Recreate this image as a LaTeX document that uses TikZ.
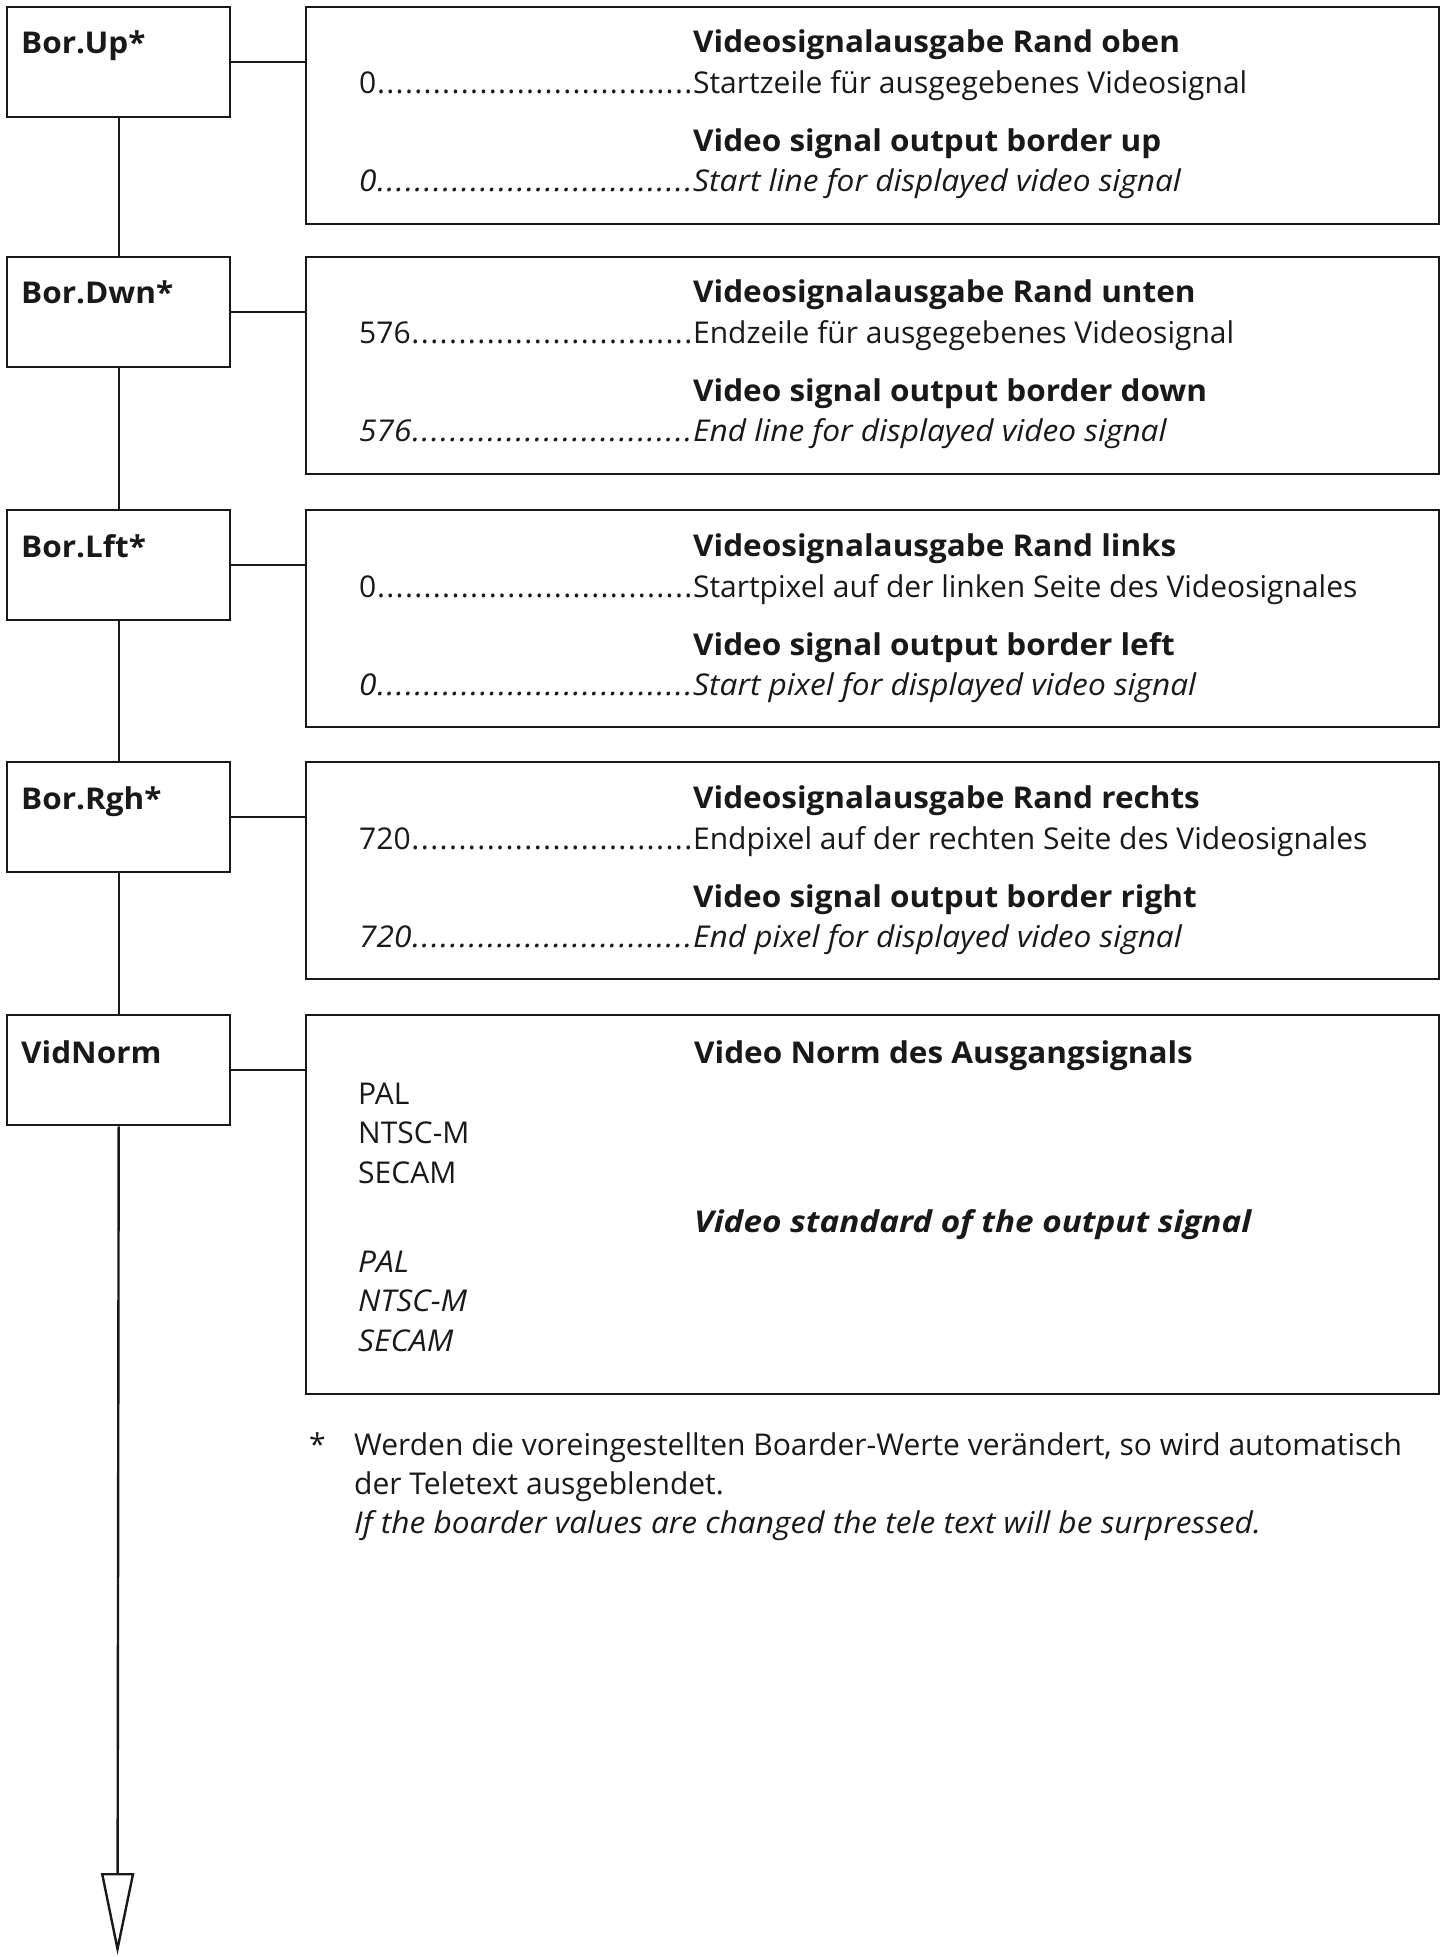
\documentclass[tikz,border=0pt]{standalone}
\usepackage{fontspec}
\setmainfont{Open Sans}[BoldFeatures={FakeStretch=1.05}, ItalicFeatures={FakeStretch=1.055}, BoldItalicFeatures={FakeStretch=1.11}]
\usetikzlibrary{arrows.meta, positioning}

\newcommand{\dotlead}{\xleaders\hbox to 4.6pt{\hss.\hss}\hfill}
\newcommand{\leadline}[2]{\makebox[167pt][l]{#1\dotlead}#2}

\begin{document}
\begin{tikzpicture}[x=0.5pt, y=-0.5pt, line width=1.2pt, color={black!90},
  lbox/.style={draw, anchor=north west, inner sep=0pt, minimum width=111.5pt, minimum height=55pt},
  rbox/.style={draw, anchor=north west, inner sep=0pt, minimum width=566.5pt, minimum height=108.5pt},
  txt/.style={anchor=base west, inner sep=0pt, font=\fontsize{15}{18}\selectfont},
  ttl/.style={txt, font=\fontsize{15}{18}\selectfont\bfseries}]
\useasboundingbox (0,0) rectangle (1445,1957);
%left boxes
\node[lbox] (up) at (6,6) {};
\node[lbox] (dwn) at (6,256) {};
\node[lbox] (lft) at (6,509) {};
\node[lbox] (rgh) at (6,761) {};
\node[lbox] (vn) at (6,1014) {};
\node[ttl] (upl) at (20,54) {Bor.Up*};
\node[ttl] (dwnl) at (20,304) {Bor.Dwn*};
\node[ttl] (lftl) at (20,557) {Bor.Lft*};
\node[ttl] (rghl) at (20,809) {Bor.Rgh*};
\node[ttl] (vnl) at (20,1063) {VidNorm};
%right boxes
\node[rbox] (upr) at (305,6) {};
\node[rbox] (dwnr) at (305,256) {};
\node[rbox] (lftr) at (305,509) {};
\node[rbox] (rghr) at (305,761) {};
\node[rbox, minimum height=189.5pt] (vnr) at (305,1014) {};
%connectors
\draw (up.east) -- (up.east -| upr.west);
\draw (dwn.east) -- (dwn.east -| dwnr.west);
\draw (lft.east) -- (lft.east -| lftr.west);
\draw (rgh.east) -- (rgh.east -| rghr.west);
\draw (vn.east) -- (vn.east -| vnr.west);
%main line
\draw (up.south) -- (dwn.north);
\draw (dwn.south) -- (lft.north);
\draw (lft.south) -- (rgh.north);
\draw (rgh.south) -- (vn.north);
\coordinate (tip) at (117.5,1955);
\draw[-{Triangle[open, length=41pt, width=16.5pt]}] (vn.south) -- (tip);
%border up
\node[ttl] (up1) at (692,53) {Videosignalausgabe Rand oben};
\node[txt] (up2) at (358,94) {\leadline{0}{Startzeile für ausgegebenes Videosignal}};
\node[ttl] (up3) at (692,152) {Video signal output border up};
\node[txt] (up4) at (358,192) {\itshape\leadline{0}{Start line for displayed video signal}};
%border down
\node[ttl] (dwn1) at (692,303) {Videosignalausgabe Rand unten};
\node[txt] (dwn2) at (358,344) {\leadline{576}{Endzeile für ausgegebenes Videosignal}};
\node[ttl] (dwn3) at (692,402) {Video signal output border down};
\node[txt] (dwn4) at (358,442) {\itshape\leadline{576}{End line for displayed video signal}};
%border left
\node[ttl] (lft1) at (692,556) {Videosignalausgabe Rand links};
\node[txt] (lft2) at (358,597) {\leadline{0}{Startpixel auf der linken Seite des Videosignales}};
\node[ttl] (lft3) at (692,655) {Video signal output border left};
\node[txt] (lft4) at (358,695) {\itshape\leadline{0}{Start pixel for displayed video signal}};
%border right
\node[ttl] (rgh1) at (692,808) {Videosignalausgabe Rand rechts};
\node[txt] (rgh2) at (358,849) {\leadline{720}{Endpixel auf der rechten Seite des Videosignales}};
\node[ttl] (rgh3) at (692,907) {Video signal output border right};
\node[txt] (rgh4) at (358,947) {\itshape\leadline{720}{End pixel for displayed video signal}};
%video norm
\node[ttl] (vn1) at (693,1063) {Video Norm des Ausgangsignals};
\node[txt] (vn2) at (357,1104) {PAL};
\node[txt] (vn3) at (357,1143) {NTSC-M};
\node[txt] (vn4) at (357,1183) {SECAM};
\node[ttl] (vn5) at (693,1232) {\itshape Video standard of the output signal};
\node[txt] (vn6) at (357,1272) {\itshape PAL};
\node[txt] (vn7) at (357,1311) {\itshape NTSC-M};
\node[txt] (vn8) at (357,1351) {\itshape SECAM};
%footnote
\node[txt] (star) at (308,1455) {*};
\node[txt] (fn1) at (353,1455) {Werden die voreingestellten Boarder-Werte verändert, so wird automatisch};
\node[txt] (fn2) at (353,1494) {der Teletext ausgeblendet.};
\node[txt] (fn3) at (353,1533) {\itshape If the boarder values are changed the tele text will be surpressed.};
\end{tikzpicture}
\end{document}
